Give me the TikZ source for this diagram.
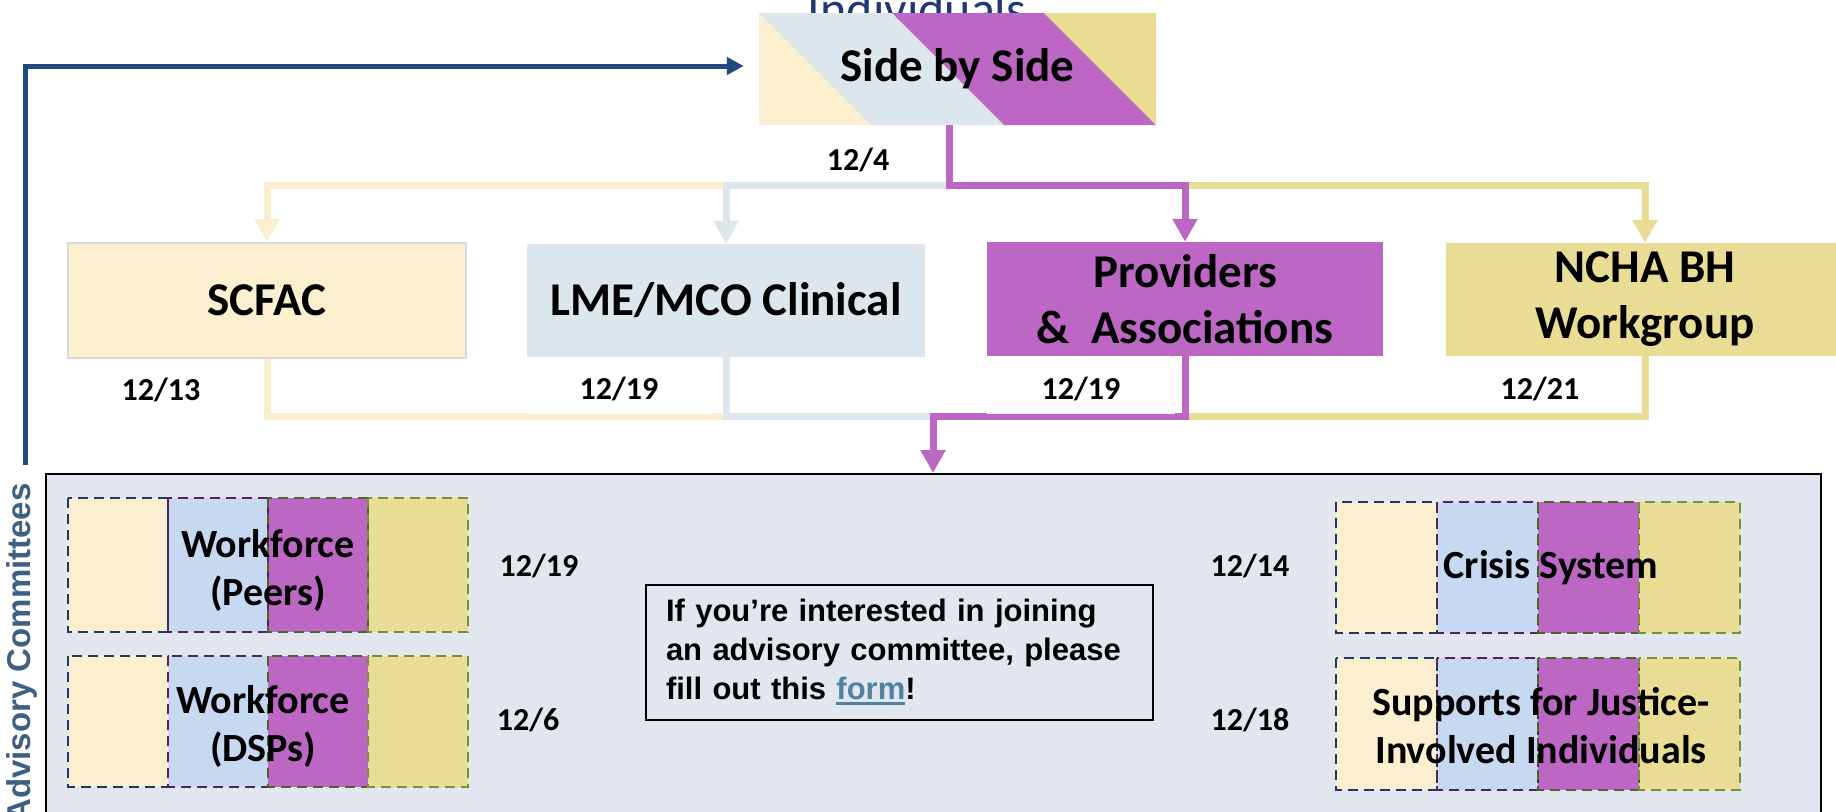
\documentclass[tikz,border=0pt]{standalone}
\usepackage{fontspec}
\setmainfont{Carlito}
\newfontfamily\arialfam{Liberation Sans}
\usetikzlibrary{arrows.meta}
\definecolor{creamc}{RGB}{252,239,207}
\definecolor{lmec}{RGB}{220,230,237}
\definecolor{purplec}{RGB}{187,103,195}
\definecolor{yellowc}{RGB}{233,220,149}
\definecolor{segblue}{RGB}{198,217,240}
\definecolor{advbg}{RGB}{226,231,239}
\definecolor{navyc}{RGB}{34,74,126}
\definecolor{indivc}{RGB}{31,56,115}
\definecolor{advtext}{RGB}{62,96,130}
\definecolor{formc}{RGB}{80,131,160}
\definecolor{navyd}{RGB}{31,56,100}
\definecolor{purd}{RGB}{84,36,90}
\definecolor{greend}{RGB}{79,98,40}
\definecolor{greenl}{RGB}{118,146,60}
\definecolor{scfacborder}{RGB}{217,217,217}
\newcommand\formlink[1]{\setbox0\hbox{#1}\rlap{\rule[-5pt]{\wd0}{3pt}}\box0}
\newcommand\commbox[4]{%
  \fill[creamc] (#1,#2) rectangle (#1+#4,#3);
  \fill[segblue] (#1+#4,#2) rectangle (#1+2*#4,#3);
  \fill[purplec] (#1+2*#4,#2) rectangle (#1+3*#4,#3);
  \fill[yellowc] (#1+3*#4,#2) rectangle (#1+4*#4,#3);
  \draw[seg,draw=navyd] (#1,#2) rectangle (#1+#4,#3);
  \draw[seg,draw=purd] (#1+#4,#2) rectangle (#1+2*#4,#3);
  \draw[seg,draw=greend] (#1+2*#4,#2) rectangle (#1+3*#4,#3);
  \draw[seg,draw=greenl] (#1+3*#4,#2) rectangle (#1+4*#4,#3);
}
\begin{document}
\begin{tikzpicture}[x=1pt,y=-1pt,
  boxtext/.style={rectangle, inner sep=0pt, font=\fontsize{47}{56}\selectfont\bfseries, align=center},
  datelbl/.style={font=\fontsize{32}{38}\selectfont\bfseries, inner sep=0pt},
  conn/.style={line width=7pt, line join=miter},
  arrowtip/.style={-{Triangle[length=23pt,width=24pt]}},
  seg/.style={line width=2.6pt, dash pattern=on 10pt off 6pt},
  comm/.style={font=\fontsize{40}{48}\selectfont\bfseries, align=center, inner sep=0pt}]
\useasboundingbox (0,0) rectangle (1836,811);
\clip (0,0) rectangle (1836,811);
\fill[white] (0,0) rectangle (1836,811);

% partially hidden title
\node[anchor=base, text=indivc, font=\fontsize{50}{60}\selectfont, inner sep=0pt] (indiv) at (917,26) {Individuals};

% Side by Side box
\fill[creamc] (759,13) -- (759,125) -- (871,125) -- cycle;
\fill[lmec] (759,13) -- (892,13) -- (1004,125) -- (871,125) -- cycle;
\fill[purplec] (892,13) -- (1044,13) -- (1156,125) -- (1004,125) -- cycle;
\fill[yellowc] (1044,13) -- (1156,13) -- (1156,125) -- cycle;
\node[boxtext, minimum width=397pt, minimum height=112pt] (sbs) at (957.5,69) {Side by Side};

% second row boxes
\node[boxtext, fill=creamc, draw=scfacborder, line width=2pt, minimum width=398pt, minimum height=115pt] (scfac) at (267,300.5) {SCFAC};
\node[boxtext, fill=lmec, minimum width=398pt, minimum height=113pt] (lme) at (726,300.5) {LME/MCO Clinical};
\node[boxtext, fill=purplec, minimum width=396pt, minimum height=114pt] (prov) at (1185,299) {Providers\\\&~ Associations};
\node[boxtext, fill=yellowc, minimum width=398pt, minimum height=113pt] (ncha) at (1645,299.5) {NCHA BH\\Workgroup};

% advisory committees panel
\node[draw=black, line width=2pt, fill=advbg, minimum width=1775pt, minimum height=366pt, inner sep=0pt] (adv) at (933.5,657) {};

\coordinate (jt) at (949,185);
\coordinate (jb) at (933,416);

% top connectors
\draw[conn, arrowtip, draw=creamc] (lme.north |- jt) -| (scfac.north);
\draw[conn, arrowtip, draw=lmec] (jt) -| (lme.north);
\draw[conn, arrowtip, draw=yellowc] (prov.north |- jt) -| (ncha.north);
\draw[conn, arrowtip, draw=purplec] ([xshift=-8.5pt]sbs.south) -- (jt) -| (prov.north);

% bottom connectors
\draw[conn, draw=creamc] (scfac.south) |- (lme.south |- jb);
\draw[conn, draw=lmec] (lme.south) |- (jb);
\draw[conn, draw=yellowc] (ncha.south) |- (prov.south |- jb);
\draw[conn, arrowtip, draw=purplec] (prov.south) |- (jb) -- (jb |- adv.north);

% white label backgrounds
\fill[white] (528,357) rectangle (714,414);
\fill[white] (987,357) rectangle (1175,414);

% dates
\node[datelbl] (d4) at (858,160) {12/4};
\node[datelbl] (d13) at (161,390) {12/13};
\node[datelbl] (d19a) at (619,389) {12/19};
\node[datelbl] (d19b) at (1081,389) {12/19};
\node[datelbl] (d21) at (1540,389) {12/21};

% navy feedback arrow
\coordinate (navyb) at (25,465);
\draw[line width=5pt, line join=miter, navyc, -{Triangle[length=17pt,width=17pt]}] (navyb) |- ([xshift=-15pt,yshift=3pt]sbs.west);
\node[rotate=90, text=advtext, font=\arialfam\bfseries\fontsize{33}{38}\selectfont, inner sep=0pt] (advlabel) at (22,653) {Advisory Committees};

% committees
\commbox{68}{498}{632}{100}
\commbox{68}{656}{787}{100}
\commbox{1336}{502}{633}{101}
\commbox{1336}{658}{790}{101}
\node[comm] (wp) at (268,570) {Workforce\\(Peers)};
\node[comm] (wd) at (263,726) {Workforce\\(DSPs)};
\node[comm] (cs) at (1551,568) {Crisis System};
\node[comm] (sj) at (1541,726) {Supports for Justice-\\Involved Individuals};

\node[datelbl] (d19c) at (539,566) {12/19};
\node[datelbl] (d6) at (528,720) {12/6};
\node[datelbl] (d14) at (1250,566) {12/14};
\node[datelbl] (d18) at (1250,720) {12/18};

% info box
\node[draw=black, line width=2pt, fill=advbg, minimum width=507pt, minimum height=135pt, inner xsep=20pt, inner ysep=0pt, align=left, text width=467pt, font=\arialfam\bfseries\fontsize{31}{39}\selectfont] (info) at (899.5,652) {If you’re interested in joining\\an advisory committee, please\\fill out this \textcolor{formc}{\formlink{form}}!};
\end{tikzpicture}
\end{document}
